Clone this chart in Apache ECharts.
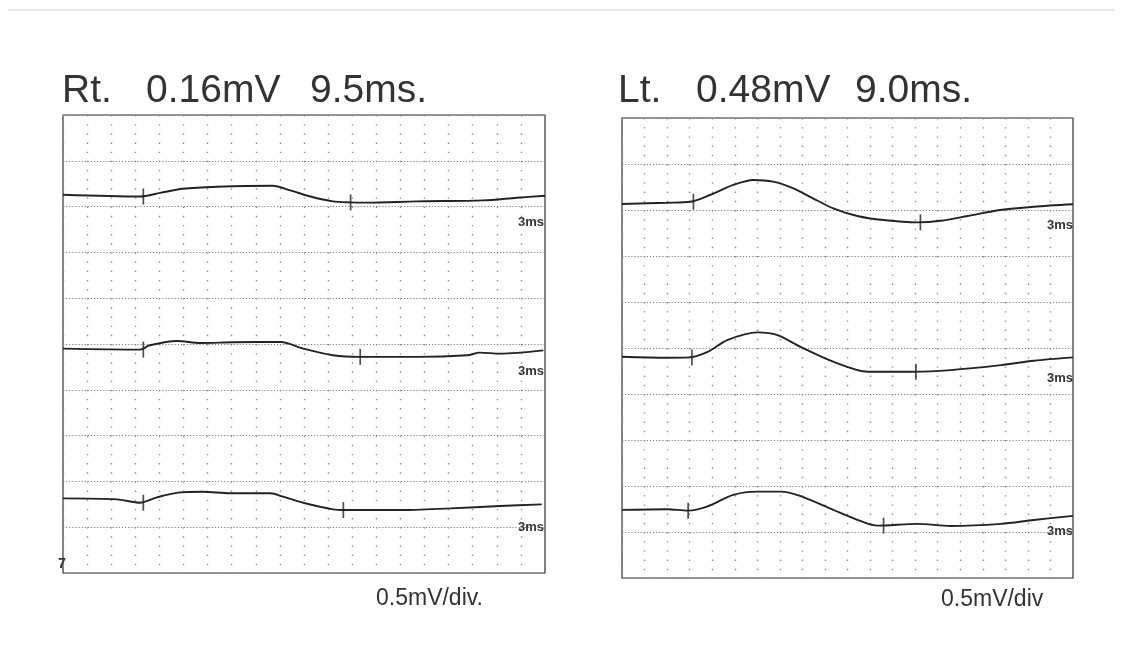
<!DOCTYPE html>
<html>
<head>
<meta charset="utf-8">
<script src="https://cdn.jsdelivr.net/npm/echarts@6/dist/echarts.min.js"></script>
<style>
  html, body { margin: 0; padding: 0; background: #ffffff; }
  #chart { width: 1123px; height: 665px; }
</style>
</head>
<body>
<div id="chart"></div>
<script>
// ---- Rt. traces (time in ms, amplitude in mV relative to each trace's baseline)
var rt1Ms = [0, 9.6, 12.1, 14.9, 19.2, 26.1, 28.3, 30.8, 33.6, 35.7, 37.8, 44.0, 52.3, 56.5, 60];
var rt1Mv = [0, -0.02, 0.02, 0.065, 0.087, 0.098, 0.047, -0.02, -0.073, -0.084, -0.087, -0.073, -0.062, -0.033, -0.011];
var rt2Ms = [0, 9.6, 10.8, 14.2, 17.1, 21.2, 27.1, 29.9, 33.6, 37.0, 44.1, 50.3, 51.9, 54.4, 59.8];
var rt2Mv = [0, -0.011, 0.036, 0.083, 0.061, 0.069, 0.072, 0, -0.073, -0.091, -0.091, -0.073, -0.044, -0.055, -0.019];
var rt3Ms = [0, 6.7, 9.6, 11.7, 14.6, 17.4, 20.8, 25.8, 27.4, 29.9, 33.6, 34.9, 42.0, 48.2, 54.4, 59.6];
var rt3Mv = [0, -0.011, -0.048, 0.011, 0.065, 0.072, 0.055, 0.055, 0.018, -0.048, -0.12, -0.128, -0.128, -0.109, -0.084, -0.066];
var rtBase = [4.13, 2.45, 0.815];
var rtMarkMs = [[10.0, 35.8], [10.0, 37.0], [10.0, 34.9]];
var rtMarkMv = [[-0.02, -0.084], [-0.011, -0.091], [-0.048, -0.128]];

// ---- Lt. traces
var lt1Ms = [0, 6.0, 9.1, 11.7, 14.8, 17.5, 20.1, 22.8, 25.4, 28.1, 31.3, 34.8, 39.3, 42.4, 46.0, 50.3, 54.8, 60];
var lt1Mv = [0, 0.014, 0.025, 0.098, 0.207, 0.261, 0.243, 0.17, 0.062, -0.047, -0.13, -0.174, -0.199, -0.182, -0.13, -0.065, -0.029, -0.003];
var lt2Ms = [0, 6.0, 8.9, 11.4, 14.0, 18.0, 20.7, 23.7, 28.1, 32.7, 38.8, 43.7, 50.4, 54.8, 60];
var lt2Mv = [0, -0.011, -0.007, 0.054, 0.181, 0.265, 0.236, 0.109, -0.054, -0.163, -0.163, -0.145, -0.091, -0.043, -0.007];
var lt3Ms = [0, 6.0, 8.8, 11.3, 14.8, 18.0, 21.1, 23.7, 28.1, 31.7, 34.0, 39.3, 43.7, 50.4, 54.8, 60];
var lt3Mv = [0, 0.008, -0.008, 0.036, 0.163, 0.199, 0.199, 0.152, 0, -0.12, -0.171, -0.152, -0.174, -0.152, -0.109, -0.065];
var ltBase = [4.065, 2.405, 0.74];
var ltMarkMs = [[9.5, 39.7], [9.3, 39.1], [8.8, 34.8]];
var ltMarkMv = [[0.025, -0.199], [-0.007, -0.163], [-0.008, -0.171]];

// ---- axis scale: 3 ms/div, 0.5 mV/div
var msMax = 60, msDiv = 3;
var mvMax = 5, mvDiv = 0.5;

var myChart = echarts.init(document.getElementById("chart"));

function traceSeries(g, ms, mv, base) {
  var pts = [];
  for (var i = 0; i < ms.length; i++) pts.push([ms[i], mv[i] + base]);
  return {
    type: "line", xAxisIndex: g, yAxisIndex: g, data: pts,
    symbol: "none", smooth: 0.3, silent: true,
    lineStyle: { color: "#232323", width: 1.9 }
  };
}

function markSeries(g, ms, mv, base) {
  var pts = [];
  for (var i = 0; i < ms.length; i++) pts.push([ms[i], mv[i] + base]);
  return {
    type: "scatter", xAxisIndex: g, yAxisIndex: g, data: pts,
    symbol: "rect", symbolSize: [1.7, 16], silent: true,
    itemStyle: { color: "#232323" }
  };
}

function xAx(g, period) {
  return {
    gridIndex: g, type: "value", min: 0, max: msMax, interval: msDiv,
    axisLine: { show: false }, axisTick: { show: false }, axisLabel: { show: false },
    splitLine: { show: true, lineStyle: { color: "#8c8c8c", width: 1.4, type: [1.4, period - 1.4] } }
  };
}
function yAx(g) {
  return {
    gridIndex: g, type: "value", min: 0, max: mvMax, interval: mvDiv,
    axisLine: { show: false }, axisTick: { show: false }, axisLabel: { show: false },
    splitLine: { show: true, lineStyle: { color: "#808080", width: 1.1, type: [1.2, 1.9] } }
  };
}

var series = [
  traceSeries(0, rt1Ms, rt1Mv, rtBase[0]),
  traceSeries(0, rt2Ms, rt2Mv, rtBase[1]),
  traceSeries(0, rt3Ms, rt3Mv, rtBase[2]),
  traceSeries(1, lt1Ms, lt1Mv, ltBase[0]),
  traceSeries(1, lt2Ms, lt2Mv, ltBase[1]),
  traceSeries(1, lt3Ms, lt3Mv, ltBase[2])
];
for (var k = 0; k < 3; k++) {
  series.push(markSeries(0, rtMarkMs[k], rtMarkMv[k], rtBase[k]));
  series.push(markSeries(1, ltMarkMs[k], ltMarkMv[k], ltBase[k]));
}

function label(txt, x, y, size, bold, align) {
  return {
    type: "text", x: x, y: y, silent: true,
    style: {
      text: txt, fill: "#333333", fontSize: size,
      fontFamily: "Liberation Sans, Arial, sans-serif",
      fontWeight: bold ? "bold" : "normal",
      align: align || "left", verticalAlign: "middle"
    }
  };
}

myChart.setOption({
  animation: false,
  backgroundColor: "#ffffff",
  grid: [
    { left: 63, top: 115, width: 482, height: 458, show: true, borderColor: "#333", borderWidth: 1.2 },
    { left: 622, top: 118, width: 451, height: 460, show: true, borderColor: "#333", borderWidth: 1.2 }
  ],
  xAxis: [xAx(0, 458 / 50), xAx(1, 460 / 50)],
  yAxis: [yAx(0), yAx(1)],
  series: series,
  graphic: [
    { type: "line", shape: { x1: 8, y1: 10, x2: 1115, y2: 10 }, style: { stroke: "#d0d0d0", lineWidth: 1 }, silent: true },
    label("Rt.", 62, 91, 39),
    label("0.16mV", 146, 91, 39),
    label("9.5ms.", 310, 91, 39),
    label("Lt.", 618, 91, 39),
    label("0.48mV", 696, 91, 39),
    label("9.0ms.", 855, 91, 39),
    label("0.5mV/div.", 376, 599, 23),
    label("0.5mV/div", 941, 600, 23),
    label("3ms", 544, 222, 13, true, "right"),
    label("3ms", 544, 371, 13, true, "right"),
    label("3ms", 544, 527, 13, true, "right"),
    label("3ms", 1073, 225, 13, true, "right"),
    label("3ms", 1073, 378, 13, true, "right"),
    label("3ms", 1073, 531, 13, true, "right"),
    label("7", 58, 564, 14, true)
  ]
});
</script>
</body>
</html>
